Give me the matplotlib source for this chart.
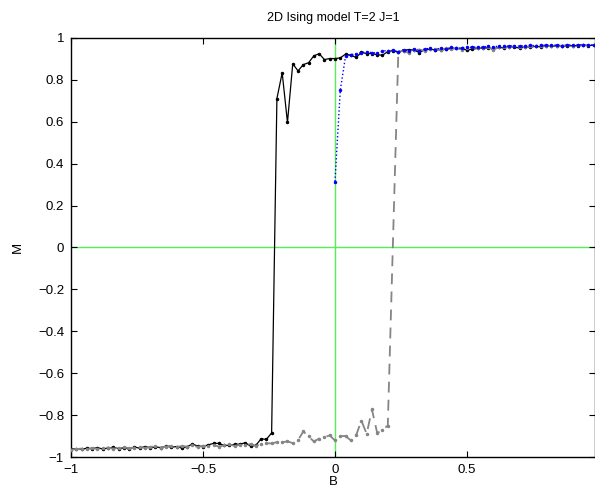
import matplotlib
matplotlib.use("Agg")
import matplotlib.pyplot as plt
import numpy as np

plt.rcParams['font.family'] = ['Liberation Sans', 'DejaVu Sans']

# field values (sweep grid)
b_full = np.linspace(-1, 0.98, 100)
b_half = np.linspace(0, 0.98, 50)
# grey sweep has no sample at B=0.22
b_grey = np.delete(b_full, 61)

# sweep 1, solid black
m_black = [-0.962, -0.960, -0.963, -0.958, -0.960, -0.955, -0.962, -0.957, -0.953, -0.960,
           -0.956, -0.962, -0.952, -0.958, -0.950, -0.956, -0.952, -0.955, -0.948, -0.953,
           -0.950, -0.957, -0.951, -0.938, -0.948, -0.950, -0.942, -0.935, -0.935, -0.945,
           -0.944,
           -0.939, -0.939, -0.932, -0.948, -0.945, -0.913, -0.916, -0.885,
           0.711, 0.834, 0.597, 0.877, 0.843, 0.873, 0.882, 0.915, 0.925, 0.897, 0.902, 0.902,
           0.905, 0.923, 0.918, 0.907, 0.931, 0.926, 0.926, 0.920, 0.918, 0.935,
           0.940, 0.931, 0.940, 0.945, 0.942, 0.930, 0.945, 0.946, 0.944, 0.944,
           0.946, 0.950, 0.950, 0.950, 0.942, 0.947, 0.950, 0.952, 0.953, 0.948,
           0.955, 0.953, 0.957, 0.956, 0.952, 0.958, 0.957, 0.960, 0.958, 0.962,
           0.960, 0.963, 0.962, 0.961, 0.964, 0.963, 0.965, 0.964, 0.966]

# sweep 2, dashed grey
m_grey = [-0.965, -0.962, -0.960, -0.964, -0.957, -0.961, -0.958, -0.955, -0.960, -0.957,
          -0.953, -0.958, -0.955, -0.950, -0.957, -0.952, -0.948, -0.955, -0.950, -0.946,
          -0.952, -0.948, -0.950, -0.945, -0.952, -0.946, -0.948, -0.943, -0.950, -0.945,
          -0.940, -0.947, -0.942, -0.945, -0.938, -0.946, -0.940, -0.935,
          -0.935, -0.929, -0.930, -0.925, -0.934, -0.920, -0.878, -0.902, -0.926, -0.912,
          -0.905, -0.897, -0.921,
          -0.900, -0.900, -0.921, -0.897, -0.826, -0.890, -0.773, -0.886, -0.870, -0.850,
          0.935, 0.940, 0.928, 0.942, 0.945, 0.938, 0.946, 0.948, 0.944, 0.950,
          0.948, 0.952, 0.945, 0.950, 0.955, 0.953, 0.950, 0.956, 0.945, 0.955,
          0.958, 0.956, 0.960, 0.958, 0.957, 0.961, 0.960, 0.962, 0.963, 0.961,
          0.964, 0.963, 0.965, 0.964, 0.966, 0.965, 0.967, 0.966]

# sweep 3 from B=0, dotted blue
m_blue = [0.315, 0.750, 0.913, 0.920, 0.925, 0.930, 0.935, 0.930, 0.928, 0.938,
          0.940, 0.942, 0.935, 0.945, 0.940, 0.947, 0.938, 0.948, 0.950, 0.945,
          0.952, 0.948, 0.955, 0.950, 0.953, 0.957, 0.955, 0.958, 0.956, 0.960,
          0.958, 0.961, 0.960, 0.962, 0.963, 0.961, 0.964, 0.965, 0.963, 0.966,
          0.965, 0.967, 0.966, 0.964, 0.967, 0.966, 0.968, 0.967, 0.966, 0.968]

fig = plt.figure(figsize=(5.95, 4.9), dpi=100)
ax = fig.add_axes([71 / 595, 33 / 490, 524 / 595, 419 / 490])

ax.axhline(0, color='#55ee55', lw=1, zorder=1)
ax.axvline(0, color='#55ee55', lw=1, zorder=1)

ax.plot(b_full, m_black, '-', color='k', lw=0.9, marker='.', ms=3, zorder=3)
ax.plot(b_grey, m_grey, '--', color='#858585', lw=1.3, marker='.', ms=3,
        dashes=(6, 4), zorder=4)
ax.plot(b_half, m_blue, ':', color='#0000ff', lw=1.0, marker='.', ms=3, zorder=5)

ax.set_xlim(-1, 0.985)
ax.set_ylim(-1, 1)
ax.set_xticks([-1, -0.5, 0, 0.5])
ax.set_xticklabels(['\u22121', '\u22120.5', '0', '0.5'])
yt = [-1, -0.8, -0.6, -0.4, -0.2, 0, 0.2, 0.4, 0.6, 0.8, 1]
ax.set_yticks(yt)
ax.set_yticklabels([('%g' % v).replace('-', '\u2212') for v in yt])
ax.tick_params(direction='in', top=True, right=True, labelsize=9.5, length=4, width=0.8)
ax.tick_params(axis='x', pad=5)
ax.tick_params(axis='y', pad=5)
for s in ax.spines.values():
    s.set_linewidth(1.0)

ax.set_title('2D Ising model T=2 J=1', fontsize=9, pad=12)
ax.set_xlabel('B', fontsize=9.5, labelpad=0)
ax.set_ylabel('M', fontsize=9.5, labelpad=10)

fig.savefig('out.png', dpi=100)
